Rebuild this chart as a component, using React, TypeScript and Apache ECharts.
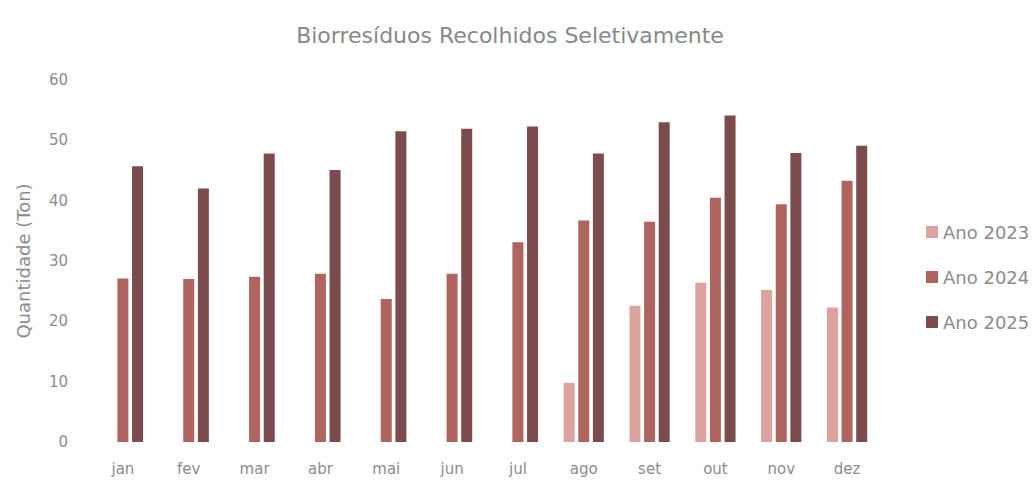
import React, { useEffect, useRef } from "react";
import * as echarts from "echarts";

const months = ["jan", "fev", "mar", "abr", "mai", "jun", "jul", "ago", "set", "out", "nov", "dez"];
const ano2023: (number | null)[] = [null, null, null, null, null, null, null, 9.8, 22.6, 26.4, 25.2, 22.3];
const ano2024: number[] = [27.1, 27.0, 27.4, 27.9, 23.7, 27.9, 33.1, 36.7, 36.5, 40.5, 39.4, 43.3];
const ano2025: number[] = [45.7, 42.0, 47.8, 45.1, 51.5, 51.9, 52.3, 47.8, 53.0, 54.1, 47.9, 49.1];
const seriesNames = ["Ano 2023", "Ano 2024", "Ano 2025"];
const colors = ["#dca39e", "#b0645f", "#7c4b4d"];
const title = "Biorresíduos Recolhidos Seletivamente";
const yName = "Quantidade (Ton)";

const FONT = "'DejaVu Sans', sans-serif";
const GRAY = "#8c8c8c";

export default function App() {
  const ref = useRef<HTMLDivElement>(null);
  useEffect(() => {
    if (!ref.current) return;
    const chart = echarts.init(ref.current, null, { renderer: "svg" });
    const data = [ano2023, ano2024, ano2025];
    chart.setOption({
      animation: false,
      backgroundColor: "#ffffff",
      title: {
        text: title,
        left: 505,
        textAlign: "center",
        top: 19,
        textStyle: { fontFamily: FONT, fontSize: 22, fontWeight: "normal", color: "#888888" },
      },
      legend: {
        orient: "vertical",
        left: 921,
        top: 218,
        itemWidth: 12,
        itemHeight: 12,
        itemGap: 27,
        icon: "rect",
        textStyle: { fontFamily: FONT, fontSize: 18, color: GRAY },
        data: seriesNames,
      },
      grid: { left: 90, right: 153, top: 80, bottom: 41 },
      xAxis: {
        type: "category",
        data: months,
        axisLine: { show: false },
        axisTick: { show: false },
        axisLabel: { fontFamily: FONT, fontSize: 15, color: GRAY, margin: 19 },
      },
      yAxis: {
        type: "value",
        min: 0,
        max: 60,
        interval: 10,
        name: yName,
        nameLocation: "middle",
        nameGap: 58,
        nameTextStyle: { fontFamily: FONT, fontSize: 18, color: GRAY },
        splitLine: { show: false },
        axisLine: { show: false },
        axisTick: { show: false },
        axisLabel: { fontFamily: FONT, fontSize: 15, color: GRAY, margin: 22 },
      },
      series: seriesNames.map((name, i) => ({
        name,
        type: "bar",
        data: data[i],
        barWidth: 11,
        barGap: "33%",
        itemStyle: { color: colors[i] },
      })),
    });
    return () => chart.dispose();
  }, []);
  return (
    <div
      ref={ref}
      style={{ position: "fixed", left: 0, top: 0, width: 1033, height: 483 }}
    />
  );
}
